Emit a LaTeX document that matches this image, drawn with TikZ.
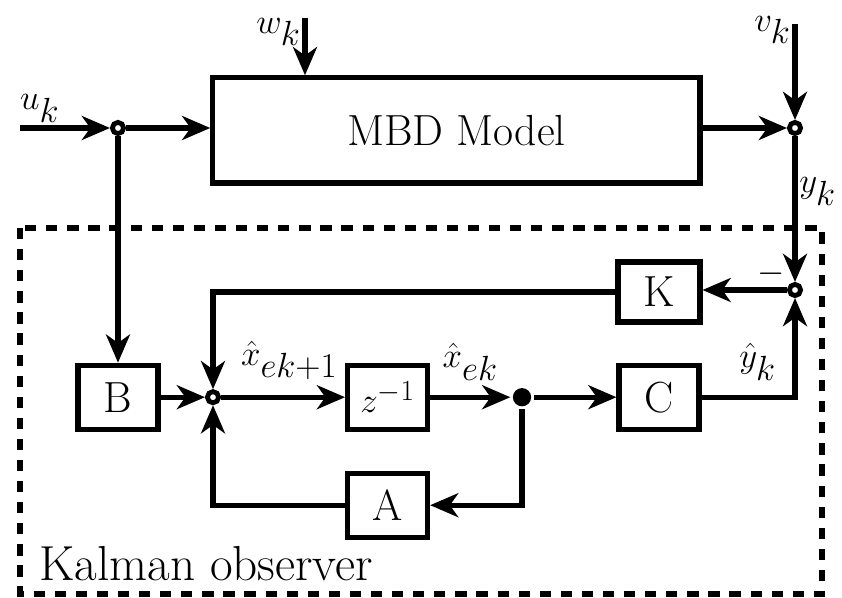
\documentclass[tikz,border=0pt]{standalone}
\usepackage{amsmath}
\usetikzlibrary{arrows.meta, positioning, calc}

\begin{document}
\begin{tikzpicture}[
    line width=3.6pt,
    font=\fontsize{31}{36}\selectfont,
    block/.style={rectangle, draw, minimum width=2cm, minimum height=1.6cm, inner sep=0pt},
    junc/.style={circle, draw, fill=white, minimum size=8pt, inner sep=0pt, line width=3.4pt},
    splitdot/.style={circle, fill, minimum size=13pt, inner sep=0pt},
    sig/.style={font=\fontsize{35}{40}\selectfont},
    arrow/.style={-{Stealth[length=20pt, width=17pt, inset=6pt]}},
]
    \useasboundingbox (0,0) rectangle (21.05,-14.925);

    % Plant
    \node[junc] (uj) at (2.95,-3.2) {};
    \node[block, minimum width=12.18cm, minimum height=2.63cm] (mbd) at (11.41,-3.26) {MBD Model};
    \node[junc] (vj) at (19.875,-3.2) {};

    % Observer blocks
    \node[junc] (fj) at (19.875,-7.25) {};
    \node[block, minimum width=2.05cm, minimum height=1.5cm] (K) at (16.475,-7.3) {K};
    \node[block] (B) at (2.95,-9.93) {B};
    \node[junc] (sum) at (5.325,-9.93) {};
    \node[block] (delay) at (9.69,-9.93) {$z^{-1}$};
    \node[splitdot] (split) at (13.05,-9.93) {};
    \node[block] (C) at (16.475,-9.93) {C};
    \node[block] (A) at (9.69,-12.63) {A};

    % Free ends
    \coordinate (uin) at (0.5,-3.2);
    \coordinate (win) at (7.625,-0.45);
    \coordinate (vin) at (19.875,-0.6);

    % Plant signals
    \draw[arrow] (uin) -- node[sig, pos=0.22, above, yshift=-1pt] {$u_k$} (uj);
    \draw[arrow] (uj) -- (mbd.west |- uj);
    \draw[arrow] (win) node[sig, left, xshift=2pt, yshift=-10pt] {$w_k$} -- (win |- mbd.north);
    \draw[arrow] (mbd.east |- vj) -- (vj);
    \draw[arrow] (vin) node[sig, left, xshift=2pt, yshift=-4pt] {$v_k$} -- (vj);
    \draw[arrow] (vj) -- node[sig, pos=0.38, right, xshift=-2pt] {$y_k$} (fj);

    % Observer loop
    \draw[arrow] (uj) -- (B);
    \draw[arrow] (fj) node[above left, xshift=-2pt, yshift=-2pt] {$-$} -- (K.east |- fj);
    \draw[arrow] (K.west) -| (sum);
    \draw[arrow] (B) -- (sum);
    \draw[arrow] (sum) -- node[sig, pos=0.55, above, yshift=7pt] {$\hat{x}_{ek+1}$} (delay);
    \draw[arrow] (delay) -- node[sig, above, yshift=7pt] {$\hat{x}_{ek}$} (split);
    \draw[arrow] (split) -- (C);
    \draw[arrow] (C.east) -| node[sig, pos=0.3, above, yshift=7pt] {$\hat{y}_k$} (fj);
    \draw[arrow] (split) |- (A);
    \draw[arrow] (A) -| (sum);

    % Observer frame
    \draw[dashed, dash pattern=on 8pt off 7pt] (0.5,-5.7) rectangle (20.55,-14.85);
    \node[anchor=base west, font=\fontsize{35}{40}\selectfont] (kalman) at (0.8,-14.5) {Kalman observer};
\end{tikzpicture}
\end{document}
